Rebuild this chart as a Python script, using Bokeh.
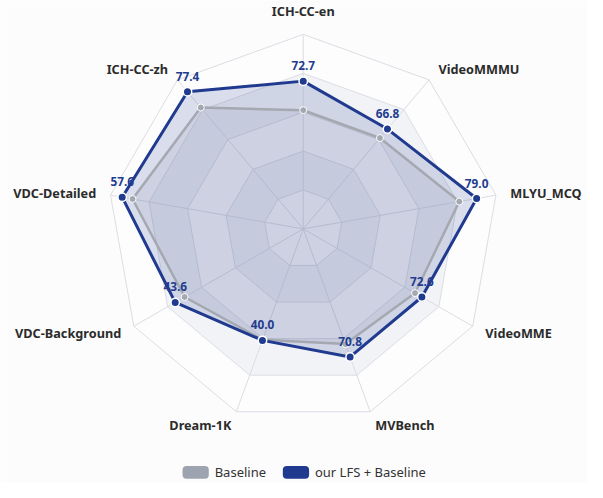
import numpy as np
from bokeh.plotting import figure
from bokeh.models import Range1d
from bokeh.core.properties import value
from bokeh.embed import file_html
from bokeh.resources import INLINE

# ---------------- data ----------------
indicators = ["ICH-CC-en", "VideoMMMU", "MLYU_MCQ", "VideoMME", "MVBench",
              "Dream-1K", "VDC-Background", "VDC-Detailed", "ICH-CC-zh"]
axis_max = [95.7, 99.7, 87.8, 103.7, 101.1, 65.6, 57.7, 61.3, 84.1]
baseline = [58.4, 60.8, 71.1, 68.4, 63.7, 39.8, 40.4, 54.3, 68.5]
lfs = [72.7, 66.8, 79.0, 72.6, 70.8, 40.0, 43.6, 57.6, 77.4]
series_names = ["Baseline", "our LFS + Baseline"]

# ---------------- layout (in a 603 x 498 canvas unit system) ----------------
W, H = 587, 482
UW, UH = 603, 498
CX, CY = 311, 262
R = 201
N_SPLIT = 5
FONT = "Noto Sans"

p = figure(width=W, height=H, output_backend="svg", toolbar_location=None,
           x_range=Range1d(0, UW), y_range=Range1d(0, UH), min_border=0)
p.axis.visible = False
p.grid.visible = False
p.outline_line_color = None
p.background_fill_color = "#fcfcfd"
p.border_fill_color = "#fcfcfd"

n = len(indicators)
theta = np.pi / 2 - np.arange(n) * 2 * np.pi / n
cos_t, sin_t = np.cos(theta), np.sin(theta)


def ring(r):
    return list(CX + r * cos_t), list(CY + r * sin_t)


# split areas (outer first)
band_colors = ["#fdfdfe", "#f2f3f7"]
for k in range(N_SPLIT, 0, -1):
    xs, ys = ring(R * k / N_SPLIT)
    p.patch(xs, ys, fill_color=band_colors[(N_SPLIT - k) % 2], line_color=None)

# split lines + spokes
ring_xs, ring_ys = [], []
for k in range(1, N_SPLIT + 1):
    xs, ys = ring(R * k / N_SPLIT)
    ring_xs.append(xs + [xs[0]])
    ring_ys.append(ys + [ys[0]])
for i in range(n):
    ring_xs.append([CX, CX + R * cos_t[i]])
    ring_ys.append([CY, CY + R * sin_t[i]])
p.multi_line(ring_xs, ring_ys, line_color="#dcdde3", line_width=1)


# series
def to_xy(vals):
    frac = np.array(vals) / np.array(axis_max)
    return CX + R * frac * cos_t, CY + R * frac * sin_t


bx, by = to_xy(baseline)
lx, ly = to_xy(lfs)

p.patch(list(bx), list(by), fill_color="#9ca3b0", fill_alpha=0.15, line_color=None)
p.patch(list(lx), list(ly), fill_color="#2a3f92", fill_alpha=0.17, line_color=None)

p.line(list(bx) + [bx[0]], list(by) + [by[0]], line_color="#a4a8b1", line_width=2.5)
p.scatter(list(bx), list(by), size=7, fill_color="#a4a8b1", line_color="#ffffff", line_width=1)

p.line(list(lx) + [lx[0]], list(ly) + [ly[0]], line_color="#1f3a8f", line_width=3)
p.scatter(list(lx), list(ly), size=8.5, fill_color="#1f3a8f", line_color="#ffffff", line_width=1.5)

# value labels
p.text(list(lx), list(ly + 16), text=[f"{v:.1f}" for v in lfs],
       text_align="center", text_baseline="middle",
       text_font=value(FONT), text_font_size="11.8px", text_font_style="bold",
       text_color="#233c8e")

# indicator names
LR = 216
for i in range(n):
    if abs(cos_t[i]) < 0.1:
        align = "center"
        base = "bottom" if sin_t[i] > 0 else "top"
    else:
        align = "left" if cos_t[i] > 0 else "right"
        base = "middle"
    p.text([CX + LR * cos_t[i]], [CY + LR * sin_t[i]], text=[indicators[i]],
           text_align=align, text_baseline=base, text_font=value(FONT),
           text_font_size="12.7px", text_font_style="bold", text_color="#2b2b2b")

# legend
LEG_Y = 10.5
leg_colors = ["#9ea4af", "#1f3a8f"]
leg_x = [187, 290]
for name, col, x0 in zip(series_names, leg_colors, leg_x):
    p.quad(left=x0, right=x0 + 27, bottom=LEG_Y - 6.5, top=LEG_Y + 6.5,
           fill_color=col, line_color=None, border_radius=4)
    p.text([x0 + 33], [LEG_Y], text=[name], text_align="left", text_baseline="middle",
           text_font=value(FONT), text_font_size="13px", text_color="#333333")

open("out.html", "w").write(file_html(p, INLINE))
